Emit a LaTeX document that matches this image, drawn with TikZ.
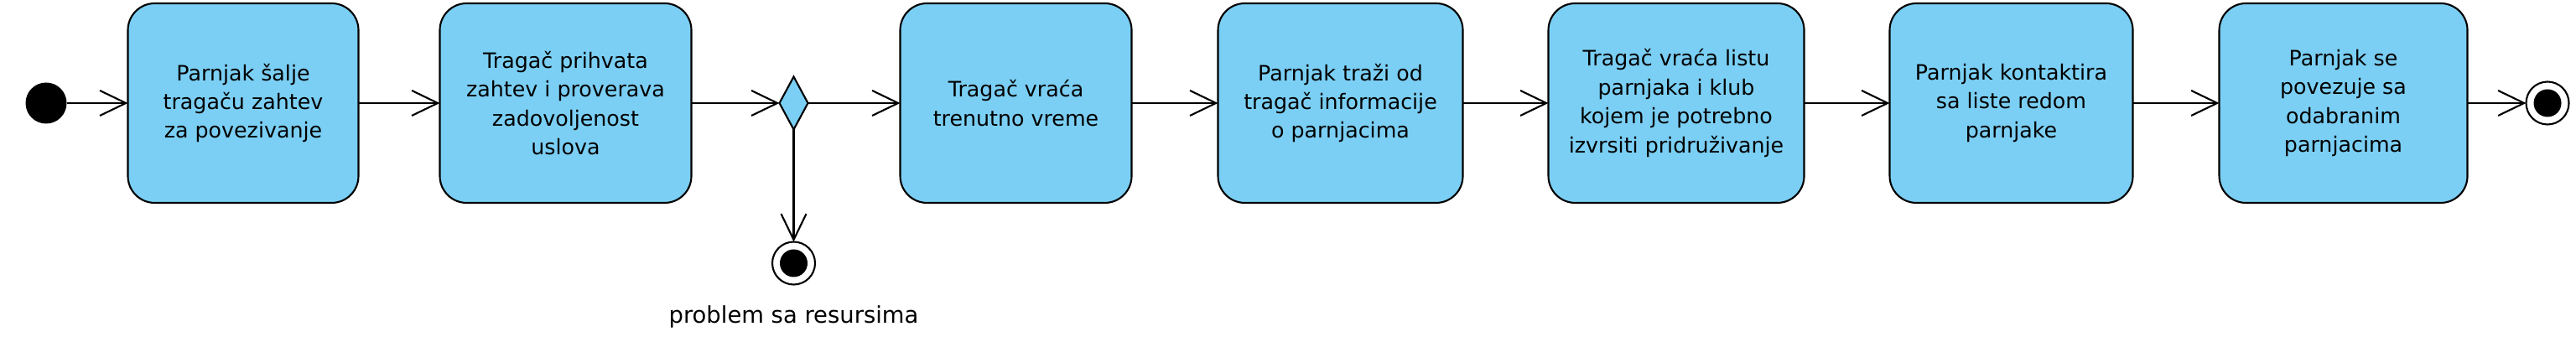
\documentclass[tikz,border=0pt]{standalone}
\usepackage{fontspec}
\setmainfont{DejaVu Sans}
\usepackage{tikz}
\usetikzlibrary{arrows.meta,positioning,shapes.geometric}
\definecolor{plava}{HTML}{7BCFF4}

\begin{document}
\begin{tikzpicture}[
  font=\fontsize{7.2pt}{9.8pt}\selectfont,
  akcija/.style={draw=black, line width=0.6pt, rounded corners=3.2mm, align=center, minimum height=2.38cm, inner sep=2pt, outer sep=0pt, fill=plava},
  odluka/.style={diamond, draw=black, line width=0.6pt, fill=plava, minimum width=3.4mm, minimum height=6.3mm, inner sep=0pt, outer sep=0pt},
  pocetak/.style={circle, fill=black, minimum size=4.9mm, inner sep=0pt, outer sep=0pt},
  kraj/.style={circle, draw=black, line width=0.6pt, fill=white, minimum size=5.1mm, inner sep=0pt, outer sep=0pt,
    path picture={\fill[black] (path picture bounding box.center) circle (1.65mm);}},
  strelica/.style={-{Straight Barb[length=3.1mm, width=3mm]}, black, line width=0.6pt}]
\useasboundingbox (0,0) rectangle (30.72,-4.08);
\node[pocetak] (start) at (0.55,-1.23) {};
\node[akcija, minimum width=2.75cm, right=0.73cm of start] (slanje) {Parnjak šalje\\tragaču zahtev\\za povezivanje};
\node[akcija, minimum width=3cm, right=0.97cm of slanje] (prihvat) {Tragač prihvata\\zahtev i proverava\\zadovoljenost\\uslova};
\node[odluka, right=1.05cm of prihvat] (provera) {};
\node[akcija, minimum width=2.76cm, right=1.1cm of provera] (vreme) {Tragač vraća\\trenutno vreme};
\node[akcija, minimum width=2.92cm, right=1.03cm of vreme] (info) {Parnjak traži od\\tragač informacije\\o parnjacima};
\node[akcija, minimum width=3.05cm, right=1.02cm of info] (lista) {Tragač vraća listu\\parnjaka i klub\\kojem je potrebno\\izvrsiti pridruživanje};
\node[akcija, minimum width=2.9cm, right=1.02cm of lista] (kontakt) {Parnjak kontaktira\\sa liste redom\\parnjake};
\node[akcija, minimum width=2.96cm, right=1.03cm of kontakt] (veza) {Parnjak se\\povezuje sa\\odabranim\\parnjacima};
\node[kraj, right=0.7cm of veza] (kraj1) {};
\node[kraj, below=1.34cm of provera] (kraj2) {};
\node[font=\fontsize{7.8pt}{9.8pt}\selectfont, below=0.13cm of kraj2] (problem) {problem sa resursima};
\draw[strelica] (start) -- (slanje); \draw[strelica] (slanje) -- (prihvat);
\draw[strelica] (prihvat) -- (provera); \draw[strelica] (provera) -- (vreme);
\draw[strelica] (provera) -- (kraj2);
\draw[strelica] (vreme) -- (info); \draw[strelica] (info) -- (lista);
\draw[strelica] (lista) -- (kontakt); \draw[strelica] (kontakt) -- (veza);
\draw[strelica] (veza) -- (kraj1);
\end{tikzpicture}
\end{document}
